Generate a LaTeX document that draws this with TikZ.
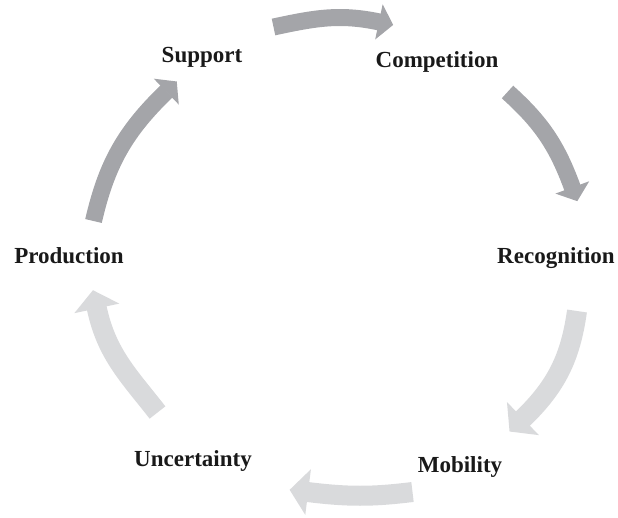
\documentclass[tikz,border=0pt]{standalone}
\usepackage{fontspec}
\setmainfont{Liberation Serif}
\usetikzlibrary{decorations.markings}
\definecolor{arrowdark}{RGB}{164,165,169}
\definecolor{arrowlight}{RGB}{217,218,220}
\begin{document}
\begin{tikzpicture}[x=1pt,y=-1pt,
  label/.style={font=\fontsize{23}{27}\selectfont\bfseries, text=black!90, anchor=base, inner sep=0pt},
  % thick curved band ending in a triangular head (#1 colour, #2 head length, #3 head width)
  cyclearrow/.style n args={3}{draw=#1, line cap=butt,
    postaction={decorate},
    decoration={markings, mark=at position 1 with
      {\fill[#1] (-0.6,#3/2) -- (#2,0) -- (-0.6,-#3/2) -- cycle;}}},
  darkarrow/.style={cyclearrow={arrowdark}{14}{36}, line width=17pt},
  lightarrow/.style={cyclearrow={arrowlight}{18}{46}, line width=20pt}]
\useasboundingbox (0,0) rectangle (618,517);

% stages of the cycle
\node[label] (support)     at (202,62)  {Support};
\node[label] (competition) at (437,67)  {Competition};
\node[label] (recognition) at (556,263) {Recognition};
\node[label] (mobility)    at (460,472) {Mobility};
\node[label] (uncertainty) at (193,466) {Uncertainty};
\node[label] (production)  at (69,263)  {Production};

% band ends: tail centre and head base centre
\coordinate (a1s) at (273.5,27);  \coordinate (a1e) at (379.5,22);
\coordinate (a2s) at (507.5,92);  \coordinate (a2e) at (572.5,188);
\coordinate (a3s) at (577,311);   \coordinate (a3e) at (522.5,419);
\coordinate (a4s) at (412.5,492); \coordinate (a4e) at (307.5,492);
\coordinate (a5s) at (157.5,412.5); \coordinate (a5e) at (96.7,307.8);
\coordinate (a6s) at (93.5,221);  \coordinate (a6e) at (166.7,91.2);

% upper half of the cycle
\draw[darkarrow] (a6s) to[out=77, in=224] (a6e);
\draw[darkarrow] (a1s) to[out=12, in=168] (a1e);
\draw[darkarrow] (a2s) to[out=-42, in=110] (a2e);

% lower half of the cycle
\draw[lightarrow] (a3s) to[out=-98, in=44] (a3e);
\draw[lightarrow] (a4s) to[out=187, in=-7] (a4e);
\draw[lightarrow] (a5s) to[out=128, in=-78] (a5e);
\end{tikzpicture}
\end{document}
